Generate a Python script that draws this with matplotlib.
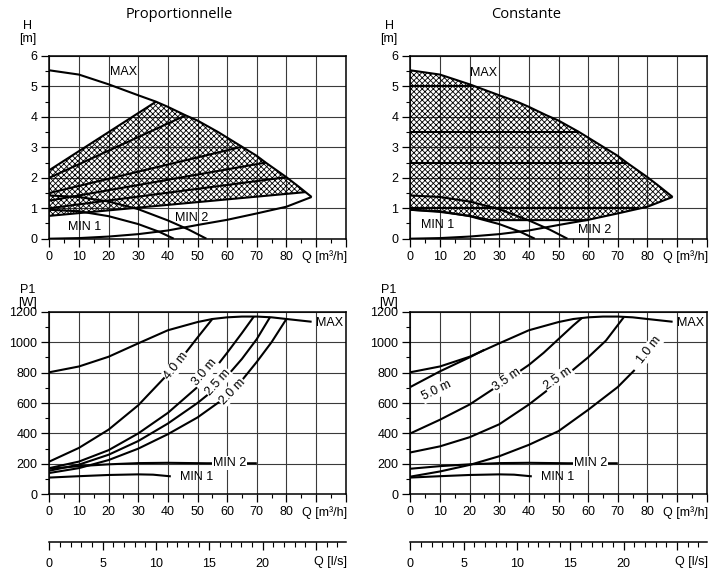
import numpy as np
import matplotlib
matplotlib.use('Agg')
import matplotlib.pyplot as plt
from matplotlib.ticker import MultipleLocator, FuncFormatter

plt.rcParams['font.family'] = ['Liberation Sans', 'DejaVu Sans']
plt.rcParams['font.size'] = 9
plt.rcParams['hatch.linewidth'] = 0.6

# ---- H(Q) curves [m] vs Q [m3/h] ----
max_q = [0, 10, 20, 30, 36, 40, 46, 50, 57, 60, 65, 70, 73, 80, 84, 88.5]
max_h = [5.53, 5.39, 5.07, 4.71, 4.50, 4.33, 4.05, 3.88, 3.50, 3.32, 3.02, 2.72, 2.50, 2.02, 1.72, 1.37]

sys_q = [0, 10, 20, 30, 40, 50, 60, 70, 80, 88.5]
sys_h = [0, 0.02, 0.07, 0.15, 0.27, 0.45, 0.62, 0.83, 1.05, 1.37]

min1_q = [0, 10, 20, 30, 37, 42]
min1_h = [0.95, 0.90, 0.74, 0.48, 0.23, 0]
min2_q = [0, 10, 20, 30, 40, 47, 53]
min2_h = [1.42, 1.37, 1.22, 0.97, 0.60, 0.30, 0]

# proportional pressure lines (start at Q=0, end on MAX)
prop_h0 = [2.25, 2.0, 1.5, 1.25, 1.0, 0.75]
prop_q1 = [36, 46, 65, 73, 80, 86.5]
prop_h1 = [4.5, 4.05, 3.02, 2.5, 2.02, 1.53]

# constant pressure lines
cst_h = [5.0, 3.5, 2.5, 1.0]
cst_q1 = [21, 57, 73, 77]
cst_low_q = [0, 10, 20, 27, 60]
cst_low_h = [0.95, 0.88, 0.75, 0.61, 0.61]

# ---- P1(Q) curves [W] ----
pmax_q = [0, 10, 20, 30, 40, 50, 55, 60, 65, 70, 75, 80, 88.5]
pmax_p = [802, 840, 904, 992, 1078, 1132, 1152, 1163, 1168, 1168, 1163, 1152, 1134]

pmin2_q = [0, 10, 20, 30, 40, 53, 70]
pmin2_p = [168, 185, 197, 205, 207, 204, 204]
pmin1_q = [0, 10, 20, 30, 35, 41]
pmin1_p = [110, 119, 127, 131, 129, 118]

pp_labels = ['4.0 m', '3.0 m', '2.5 m', '2.0 m']
pp_q = [[0, 10, 20, 30, 40, 45, 50, 55],
        [0, 10, 20, 30, 40, 50, 55, 60, 65, 69],
        [0, 10, 20, 30, 40, 50, 57, 65, 70, 74.5],
        [0, 10, 20, 30, 40, 50, 61.5, 70, 75, 80]]
pp_p = [[215, 305, 425, 585, 790, 905, 1030, 1152],
        [172, 215, 290, 400, 535, 705, 805, 930, 1060, 1168],
        [155, 195, 260, 350, 465, 600, 710, 890, 1020, 1165],
        [140, 172, 225, 300, 395, 505, 665, 870, 1000, 1152]]
pp_lab_pos = [(42.8, 845, 52), (52.5, 800, 50), (57.0, 735, 48), (61.7, 675, 46)]

pc_labels = ['5.0 m', '3.5 m', '2.5 m', '1.0 m']
pc_q = [[0, 10, 20, 25],
        [0, 10, 20, 32.5, 40, 45, 50, 55, 58],
        [0, 10, 20, 30, 40, 50, 60, 66, 72],
        [0, 10, 20, 30, 40, 50, 60, 70, 75.7]]
pc_p = [[705, 808, 900, 950],
        [400, 490, 590, 750, 850, 930, 1020, 1110, 1160],
        [275, 315, 375, 460, 590, 740, 900, 1010, 1163],
        [116, 150, 193, 250, 325, 415, 555, 705, 817]]
pc_lab_pos = [(8.9, 679, 26), (32.5, 752, 35), (49.9, 762, 35), (80.6, 948, 52)]

W, H = 722, 574
fig = plt.figure(figsize=(W / 100, H / 100), dpi=100)


def px_rect(x0, y0, x1, y1):
    return [x0 / W, 1 - y1 / H, (x1 - x0) / W, (y1 - y0) / H]


def style(ax, ymax, ystep, yminor):
    ax.set_xlim(0, 100)
    ax.set_ylim(0, ymax)
    ax.xaxis.set_major_locator(MultipleLocator(10))
    ax.xaxis.set_minor_locator(MultipleLocator(5))
    ax.yaxis.set_major_locator(MultipleLocator(ystep))
    ax.yaxis.set_minor_locator(MultipleLocator(yminor))
    ax.xaxis.set_major_formatter(FuncFormatter(lambda v, p: f'{v:.0f}' if v <= 80 else ''))
    ax.grid(True, which='major', color='#3a3a3a', lw=0.8)
    ax.set_axisbelow(True)
    ax.tick_params(which='major', direction='out', length=5.5, width=0.9, pad=3)
    ax.tick_params(which='minor', direction='out', length=3, width=0.8)
    for s in ax.spines.values():
        s.set_linewidth(1.1)
    ax.annotate('Q [m³/h]', xy=(1, 0), xycoords='axes fraction', xytext=(1, -8.5),
                textcoords='offset points', ha='right', va='top')


def ls_axis(x0, x1, y):
    a = fig.add_axes(px_rect(x0, y, x1, y + 0.5))
    a.set_xlim(0, 100 / 3.6)
    a.set_yticks([])
    for s in ['left', 'right', 'top']:
        a.spines[s].set_visible(False)
    a.spines['bottom'].set_linewidth(1.1)
    a.patch.set_visible(False)
    a.xaxis.set_major_locator(MultipleLocator(5))
    a.xaxis.set_minor_locator(MultipleLocator(1))
    a.xaxis.set_major_formatter(FuncFormatter(lambda v, p: f'{v:.0f}' if v <= 20 else ''))
    a.tick_params(which='major', direction='out', length=6, width=0.9, pad=6)
    a.tick_params(which='minor', direction='out', length=3.5, width=0.8)
    a.annotate('Q [l/s]', xy=(1, 0), xycoords='axes fraction', xytext=(1, -10.5),
               textcoords='offset points', ha='right', va='top')


curve = dict(color='black', lw=1.5, zorder=3, solid_capstyle='butt')
white = dict(fc='white', ec='none', pad=0.6)

# ---------- H charts ----------
ax_hp = fig.add_axes(px_rect(49.3, 56, 345.7, 238.7))
ax_hc = fig.add_axes(px_rect(410.3, 56, 706.7, 238.7))
for ax in (ax_hp, ax_hc):
    style(ax, 6, 1, 0.5)
    ax.plot(max_q, max_h, **curve)
    ax.plot(sys_q, sys_h, **curve)
    ax.plot(min1_q, min1_h, **curve)
    ax.plot(min2_q, min2_h, **curve)

# proportional: hatched field
inner = [(q, h) for q, h in zip(max_q, max_h) if prop_q1[0] < q < prop_q1[-1]]
poly_q = [0, prop_q1[0]] + [q for q, h in inner] + [prop_q1[-1], 0]
poly_h = [prop_h0[0], prop_h1[0]] + [h for q, h in inner] + [prop_h1[-1], prop_h0[-1]]
ax_hp.fill(poly_q, poly_h, facecolor='none', edgecolor='black', hatch='xxxxxx', lw=0, zorder=2)
for h0, q1, h1 in zip(prop_h0, prop_q1, prop_h1):
    ax_hp.plot([0, q1], [h0, h1], **curve)
ax_hp.text(20.5, 5.47, 'MAX', ha='left', va='center')
ax_hp.text(42.4, 0.67, 'MIN 2', ha='left', va='center')
ax_hp.text(6.4, 0.37, 'MIN 1', ha='left', va='center')

# constant: hatched field
sys_tail = [(q, h) for q, h in zip(sys_q, sys_h) if q > cst_low_q[-1]]
poly_q = list(max_q) + [q for q, h in sys_tail[::-1]][1:] + cst_low_q[::-1]
poly_h = list(max_h) + [h for q, h in sys_tail[::-1]][1:] + cst_low_h[::-1]
ax_hc.fill(poly_q, poly_h, facecolor='none', edgecolor='black', hatch='xxxxxx', lw=0, zorder=2)
ax_hc.plot(cst_low_q, cst_low_h, **curve)
for h, q1 in zip(cst_h, cst_q1):
    ax_hc.plot([0, q1], [h, h], **curve)
ax_hc.text(20.1, 5.44, 'MAX', ha='left', va='center')
ax_hc.text(3.5, 0.45, 'MIN 1', ha='left', va='center')
ax_hc.text(56.5, 0.28, 'MIN 2', ha='left', va='center')

# ---------- P1 charts ----------
ax_pp = fig.add_axes(px_rect(49.3, 311.7, 345.7, 494.3))
ax_pc = fig.add_axes(px_rect(410.3, 311.7, 706.7, 494.3))
for ax in (ax_pp, ax_pc):
    style(ax, 1200, 200, 100)
    ax.plot(pmax_q, pmax_p, **curve)
    ax.plot(pmin2_q, pmin2_p, **curve)
    ax.plot(pmin1_q, pmin1_p, **curve)
    ax.text(90.1, 1125, 'MAX', ha='left', va='center')
    ax.text(60.9, 206, 'MIN 2', ha='center', va='center', bbox=white, zorder=4)
    ax.text(44.2, 114, 'MIN 1', ha='left', va='center')

for q, p in zip(pp_q, pp_p):
    ax_pp.plot(q, p, **curve)
for lab, (q, p, r) in zip(pp_labels, pp_lab_pos):
    ax_pp.text(q, p, lab, rotation=r, rotation_mode='anchor', ha='center', va='center',
               bbox=white, zorder=4)

for q, p in zip(pc_q, pc_p):
    ax_pc.plot(q, p, **curve)
for lab, (q, p, r) in zip(pc_labels, pc_lab_pos):
    ax_pc.text(q, p, lab, rotation=r, rotation_mode='anchor', ha='center', va='center',
               bbox=white, zorder=4)

ls_axis(49.3, 345.7, 541)
ls_axis(410.3, 706.7, 541)

# axis captions and titles
for x in (28, 389):
    fig.text(x / W, 1 - 32.5 / H, 'H\n[m]', ha='center', va='center', linespacing=1.05)
    fig.text(x / W, 1 - 296.5 / H, 'P1\n[W]', ha='center', va='center', linespacing=1.05)
fig.text(179 / W, 1 - 15 / H, 'Proportionnelle', ha='center', va='center',
         family=['Open Sans', 'DejaVu Sans'], fontsize=10.5)
fig.text(526 / W, 1 - 15 / H, 'Constante', ha='center', va='center',
         family=['Open Sans', 'DejaVu Sans'], fontsize=10.5)

fig.savefig('out.png', dpi=100)
